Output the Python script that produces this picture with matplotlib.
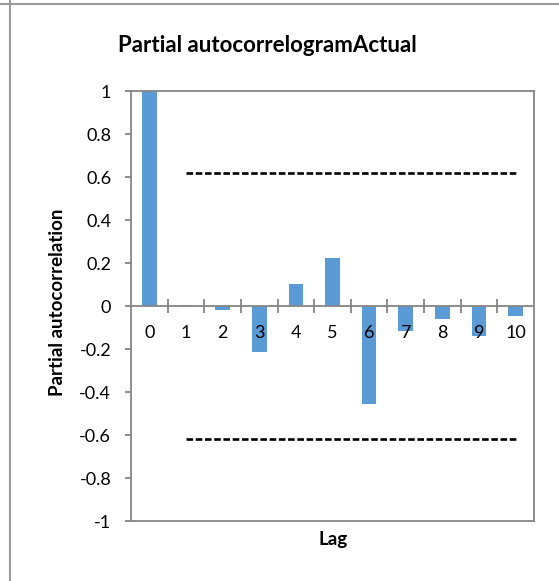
import numpy as np
import matplotlib
matplotlib.use("Agg")
import matplotlib.pyplot as plt
import matplotlib.transforms as mtransforms
from matplotlib.lines import Line2D

# Partial autocorrelation by lag
lags = [0, 1, 2, 3, 4, 5, 6, 7, 8, 9, 10]
pacf = [1.0, 0.003, -0.017, -0.214, 0.104, 0.222, -0.456, -0.115, -0.062, -0.138, -0.047]
conf_bound = 0.62  # significance bound (±)
y_ticks = [-1, -0.8, -0.6, -0.4, -0.2, 0, 0.2, 0.4, 0.6, 0.8, 1]
y_tick_labels = ["-1", "-0.8", "-0.6", "-0.4", "-0.2", "0", "0.2", "0.4", "0.6", "0.8", "1"]

title = "Partial autocorrelogramActual"
x_label = "Lag"
y_label = "Partial autocorrelation"

W, H, DPI = 559, 581, 100
plt.rcParams["font.family"] = ["Lato", "DejaVu Sans"]

fig = plt.figure(figsize=(W / DPI, H / DPI), dpi=DPI)
fig.patch.set_facecolor("white")

# outer frame lines
border = "#9a9a9a"
fig.add_artist(Line2D([0, 1], [1 - 4 / H, 1 - 4 / H], color=border, lw=1.5, transform=fig.transFigure))
fig.add_artist(Line2D([10 / W, 10 / W], [0, 1], color=border, lw=1.5, transform=fig.transFigure))

left, right, top, bottom = 131, 534, 91, 521
ax = fig.add_axes([left / W, 1 - bottom / H, (right - left) / W, (bottom - top) / H])

bar_color = "#5B9BD5"
axis_gray = "#868686"
ax.bar(lags, pacf, width=0.4, color=bar_color, zorder=2)

ax.set_xlim(-0.5, len(lags) - 0.5)
ax.set_ylim(-1, 1)

for s in ax.spines.values():
    s.set_color(axis_gray)
    s.set_linewidth(1.3)

# category axis drawn at zero
ax.axhline(0, color=axis_gray, lw=1.3, zorder=3)
bounds = np.arange(len(lags) - 1) + 0.5
ax.vlines(bounds, -0.034, 0.034, color=axis_gray, lw=1.3, zorder=3)
ax.set_xticks([])
offset = mtransforms.offset_copy(ax.transData, fig=fig, x=0, y=-27 * 72 / DPI, units="points")
for lag in lags:
    ax.text(lag, 0, str(lag), transform=offset, ha="center", va="center", fontsize=13, color="black", zorder=4)

# confidence bounds
dash = (0, (2.5, 1.0))
ax.plot([lags[1], lags[-1]], [conf_bound, conf_bound], color="black", lw=1.9, ls=dash, zorder=3)
ax.plot([lags[1], lags[-1]], [-conf_bound, -conf_bound], color="black", lw=1.9, ls=dash, zorder=3)

ax.set_yticks(y_ticks)
ax.set_yticklabels(y_tick_labels, fontsize=13)
ax.tick_params(axis="y", direction="out", length=4.3, width=1.3, color=axis_gray, pad=10)

fig.text(267 / W, 1 - 45 / H, title, ha="center", va="center", fontsize=16, fontweight="bold")
fig.text(333 / W, 1 - 540 / H, x_label, ha="center", va="center", fontsize=13.5, fontweight="bold")
fig.text(58 / W, 1 - 302 / H, y_label, ha="center", va="center", rotation=90, fontsize=13.5, fontweight="bold")

fig.savefig("out.png", dpi=DPI, facecolor="white")
